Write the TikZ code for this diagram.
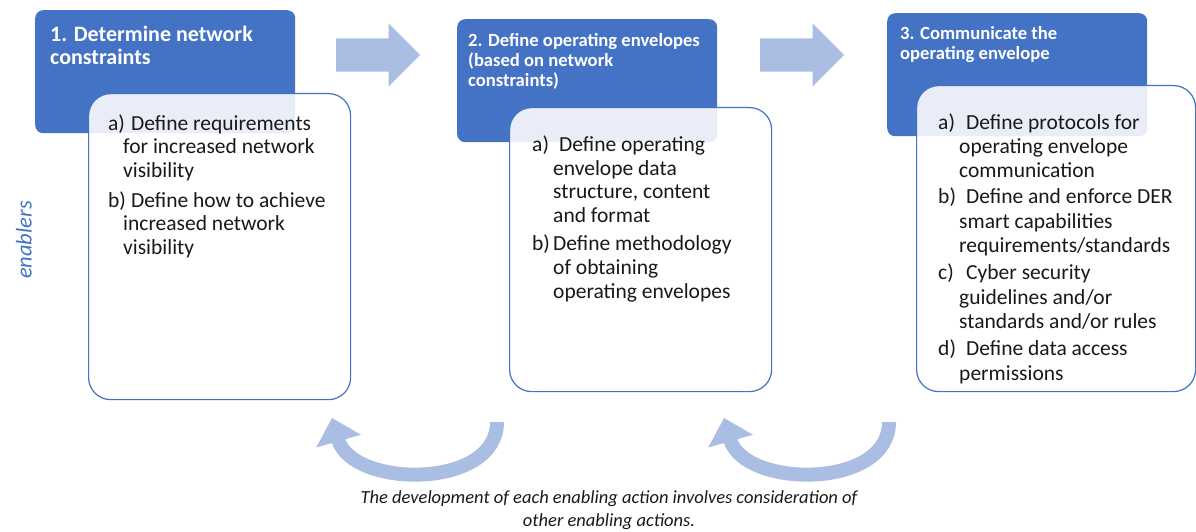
\documentclass[tikz,border=0pt]{standalone}
\usepackage{fontspec}
\setmainfont{Carlito}
\usetikzlibrary{arrows.meta}
\usetikzlibrary{positioning, calc}
\usetikzlibrary{shapes.arrows}

\definecolor{hdrblue}{RGB}{68,114,196}
\definecolor{arrblue}{RGB}{170,189,226}
\definecolor{txtdark}{RGB}{25,25,25}

\newlength{\lblw}
\newcommand{\lbl}[1]{\makebox[\lblw][l]{#1}}

\begin{document}
\begin{tikzpicture}[x=1pt, y=1pt,
    header/.style={fill=hdrblue, rounded corners=8pt, minimum width=260pt, minimum height=123pt, anchor=north west},
    card/.style={draw=hdrblue, line width=1.2pt, fill=white, fill opacity=.88, rounded corners=22pt, anchor=north west},
    hdr text/.style={text=white, font=\fontsize{18.6}{20}\selectfont\bfseries, align=left, inner sep=0pt, anchor=base west},
    item text/.style={text=txtdark, font=\fontsize{21.5}{23.5}\selectfont, align=left, inner sep=0pt, anchor=base west},
    s arrow/.style={single arrow, fill=arrblue, minimum height=84pt, inner xsep=0pt, inner ysep=16.5pt, single arrow head extend=15pt, anchor=tail},
    c arrow/.style={arrblue, line width=14pt, -{Triangle[width=45pt, length=24pt]}}
]
    \useasboundingbox (0,0) rectangle (1196,-532);

    % step headers
    \node[header] (h1) at (35,-10) {};
    \node[header] (h2) at (457,-19) {};
    \node[header] (h3) at (887,-13) {};

    % cards with the enabling actions
    \draw (h1.north west) ++(53,-83) node[card, minimum width=262pt, minimum height=306pt] (c1) {};
    \draw (h2.north west) ++(52,-88) node[card, minimum width=262pt, minimum height=284pt] (c2) {};
    \draw (h3.north west) ++(29,-72) node[card, minimum width=279pt, minimum height=306pt] (c3) {};

    % text anchors sit on the last baseline
    \draw (h1.north west) ++(15,-55) node[hdr text, font=\fontsize{22}{23}\selectfont\bfseries] (t1) {1. Determine network\\constraints};
    \draw (h2.north west) ++(11,-68) node[hdr text] (t2) {2. Define operating envelopes\\(based on network\\constraints)};
    \draw (h3.north west) ++(13,-47) node[hdr text] (t3) {3. Communicate the\\operating envelope};

    \node[item text, font=\fontsize{21.5}{23.5}\selectfont\setlength{\lblw}{15pt}] (b1) at (108,-254)
        {\lbl{a)}\hspace{8pt}Define requirements\\ \lbl{}for increased network\\ \lbl{}visibility\\[6.5pt]
         \lbl{b)}\hspace{8pt}Define how to achieve\\ \lbl{}increased network\\ \lbl{}visibility};
    \node[item text, font=\fontsize{21.5}{23.7}\selectfont\setlength{\lblw}{21pt}] (b2) at (532,-298)
        {\lbl{a)}\hspace{6pt}Define operating\\ \lbl{}envelope data\\ \lbl{}structure, content\\ \lbl{}and format\\[4.5pt]
         \lbl{b)}Define methodology\\ \lbl{}of obtaining\\ \lbl{}operating envelopes};
    \node[item text, font=\fontsize{21.5}{24.3}\selectfont\setlength{\lblw}{21pt}] (b3) at (938,-380)
        {\lbl{a)}\hspace{7pt}Define protocols for\\ \lbl{}operating envelope\\ \lbl{}communication\\[2pt]
         \lbl{b)}\hspace{7pt}Define and enforce DER\\ \lbl{}smart capabilities\\ \lbl{}requirements/standards\\[3pt]
         \lbl{c)}\hspace{7pt}Cyber security\\ \lbl{}guidelines and/or\\ \lbl{}standards and/or rules\\[3pt]
         \lbl{d)}\hspace{7pt}Define data access\\ \lbl{}permissions};

    % flow arrows
    \node[s arrow] (a1) at (336,-55) {};
    \node[s arrow] (a2) at (760,-55) {};

    \node[rotate=90, text=hdrblue, font=\fontsize{22.5}{24}\selectfont\itshape, inner sep=0pt] (enab) at (24,-240) {enablers};

    % feedback arrows
    \coordinate (f1s) at (497,-422);
    \coordinate (f1e) at (332,-418);
    \coordinate (f2s) at (889,-422);
    \coordinate (f2e) at (724,-418);
    \draw[c arrow] (f1s) .. controls +(0,-68) and +(20,-70) .. (f1e);
    \draw[c arrow] (f2s) .. controls +(0,-68) and +(20,-70) .. (f2e);

    \node[text=txtdark, font=\fontsize{18.5}{22.5}\selectfont\itshape, align=center, inner sep=0pt, anchor=base] (note) at (609,-526)
        {The development of each enabling action involves consideration of\\other enabling actions.};
\end{tikzpicture}
\end{document}
